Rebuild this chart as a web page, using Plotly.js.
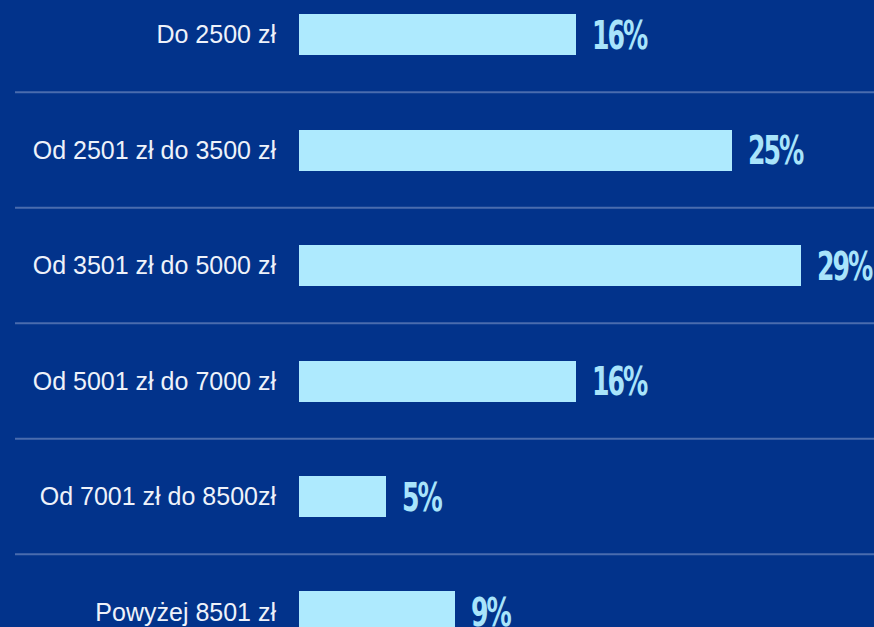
<!DOCTYPE html>
<html>
<head>
<meta charset="utf-8">
<script src="https://cdn.plot.ly/plotly-3.0.1.min.js"></script>
<style>
html,body{margin:0;padding:0;background:#02338b;}
#chart{width:874px;height:627px;}
.annotation-text{font-stretch:condensed !important;letter-spacing:-2px;transform-box:fill-box;transform-origin:center;transform:scaleY(1.4);}
</style>
</head>
<body>
<div id="chart"></div>
<script>
const categories = ["Do 2500 zł", "Od 2501 zł do 3500 zł", "Od 3501 zł do 5000 zł", "Od 5001 zł do 7000 zł", "Od 7001 zł do 8500zł", "Powyżej 8501 zł"];
const values = [16, 25, 29, 16, 5, 9];
const valueLabels = ["16%", "25%", "29%", "16%", "5%", "9%"];

const bg = "#02338b";
const barColor = "#aeeafe";
const valueColor = "#a8e4fb";

const trace = {
  type: "bar",
  orientation: "h",
  x: values,
  y: categories,
  width: 0.355,
  marker: {color: barColor, line: {width: 0}},
  hoverinfo: "skip"
};

const annotations = values.map((v, i) => ({
  x: v, y: categories[i], xref: "x", yref: "y",
  text: valueLabels[i], showarrow: false,
  xanchor: "left", yanchor: "middle", xshift: 14,
  font: {family: "'DejaVu Sans Condensed', 'DejaVu Sans', sans-serif", size: 28, color: valueColor, weight: 700}
}));

const shapes = categories.slice(0, -1).map((c, i) => ({
  type: "line", xref: "paper", yref: "y",
  x0: -0.4939, x1: 1, y0: i + 0.5, y1: i + 0.5,
  line: {color: "#4a6cae", width: 2}
}));

const layout = {
  width: 874, height: 627,
  margin: {l: 299, r: 0, t: 0, b: 0, pad: 0},
  paper_bgcolor: bg, plot_bgcolor: bg,
  showlegend: false,
  bargap: 0,
  xaxis: {range: [0, 33.22], visible: false, fixedrange: true},
  yaxis: {
    type: "category", categoryorder: "array", categoryarray: categories,
    range: [5.13, -0.299],
    showgrid: false, zeroline: false, showline: false, ticks: "",
    ticklabelstandoff: 22,
    tickfont: {family: "'Liberation Sans', Arial, sans-serif", size: 25, color: "#eef2fa"},
    automargin: false, fixedrange: true
  },
  shapes: shapes,
  annotations: annotations
};

Plotly.newPlot("chart", [trace], layout, {displayModeBar: false, staticPlot: true});
</script>
</body>
</html>
